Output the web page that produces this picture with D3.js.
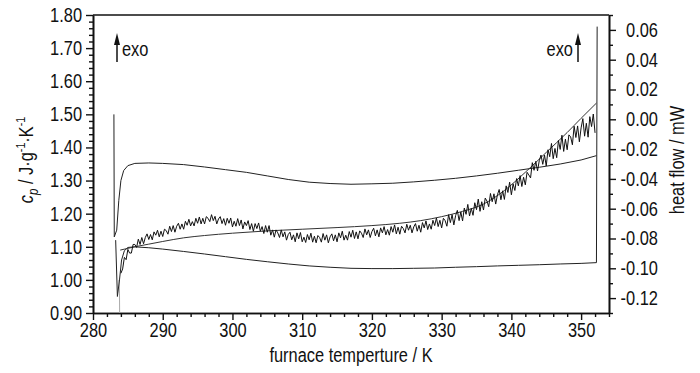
<!DOCTYPE html>
<html><head><meta charset="utf-8">
<script src="https://cdn.jsdelivr.net/npm/d3@7"></script>
<style>
body{margin:0;background:#fff}
svg{display:block}
text{font-family:"Liberation Sans",Arial,Helvetica,sans-serif;fill:#111}
</style>
</head><body>
<svg id="c" width="700" height="373"></svg>
<script>
// ---------- data ----------
const xMajorTicks = [280, 290, 300, 310, 320, 330, 340, 350];
const cpTicks = [0.90, 1.00, 1.10, 1.20, 1.30, 1.40, 1.50, 1.60, 1.70, 1.80];
const hfTicks = [-0.12, -0.10, -0.08, -0.06, -0.04, -0.02, 0.00, 0.02, 0.04, 0.06];

// measured cp (noisy), sampled every 0.25 K from 284 K (one row = 2 K)
const noisyStartT = 284, noisyStepT = 0.25;
const cpMeasured = [
1.020,1.033,1.068,1.061,1.092,1.081,1.081,1.107,
1.107,1.098,1.123,1.107,1.128,1.109,1.128,1.139,
1.122,1.137,1.121,1.145,1.135,1.150,1.130,1.147,
1.131,1.153,1.149,1.138,1.162,1.146,1.164,1.144,
1.162,1.171,1.153,1.169,1.153,1.177,1.165,1.183,
1.163,1.176,1.163,1.186,1.171,1.190,1.169,1.186,
1.169,1.191,1.186,1.176,1.197,1.179,1.192,1.169,
1.184,1.191,1.170,1.185,1.165,1.186,1.171,1.187,
1.160,1.177,1.162,1.185,1.164,1.181,1.154,1.175,
1.164,1.179,1.152,1.170,1.147,1.170,1.155,1.172,
1.147,1.161,1.140,1.164,1.144,1.164,1.135,1.151,
1.129,1.151,1.142,1.128,1.151,1.130,1.145,1.120,
1.137,1.144,1.121,1.136,1.115,1.142,1.124,1.143,
1.115,1.129,1.113,1.137,1.121,1.141,1.114,1.132,
1.112,1.134,1.128,1.114,1.140,1.120,1.136,1.112,
1.130,1.139,1.118,1.136,1.115,1.142,1.127,1.147,
1.120,1.135,1.120,1.146,1.129,1.150,1.125,1.145,
1.124,1.148,1.141,1.128,1.154,1.136,1.151,1.128,
1.146,1.156,1.133,1.151,1.130,1.157,1.142,1.161,
1.136,1.152,1.135,1.161,1.144,1.166,1.139,1.159,
1.138,1.162,1.155,1.142,1.168,1.150,1.165,1.142,
1.160,1.170,1.147,1.165,1.144,1.173,1.157,1.178,
1.152,1.169,1.153,1.180,1.164,1.187,1.161,1.180,
1.157,1.186,1.179,1.162,1.197,1.173,1.197,1.166,
1.194,1.210,1.179,1.205,1.178,1.217,1.198,1.228,
1.193,1.216,1.195,1.233,1.212,1.244,1.207,1.236,
1.211,1.247,1.238,1.221,1.261,1.236,1.260,1.229,
1.257,1.273,1.242,1.269,1.243,1.284,1.264,1.295,
1.257,1.290,1.270,1.306,1.284,1.315,1.282,1.310,
1.287,1.325,1.317,1.308,1.354,1.331,1.358,1.329,
1.360,1.377,1.349,1.377,1.344,1.393,1.372,1.412,
1.366,1.397,1.369,1.421,1.394,1.437,1.388,1.425,
1.393,1.438,1.432,1.408,1.464,1.430,1.465,1.417,
1.459,1.487,1.434,1.473,1.431,1.493,1.463,1.501,
1.444
];

// smooth fitted cp
const fitT  = [283.9, 286, 288, 290, 293, 296, 300, 305, 310, 315, 320, 324, 327, 330, 333, 336, 339, 342, 345, 348, 350, 352.2];
const cpFit = [1.090,1.100,1.108,1.116,1.127,1.134,1.141,1.148,1.153,1.158,1.164,1.171,1.179,1.191,1.207,1.229,1.270,1.325,1.385,1.445,1.488,1.534];

// heat flow of sample run (mW, right axis)
const upperT = [283.0, 283.05, 283.4, 283.7, 284.0, 284.4, 285.0, 286, 288, 290, 293, 296, 299, 302, 305, 308, 311, 314, 317, 320, 323, 326, 329, 332, 335, 338, 341, 344, 347, 350, 352.2];
const heatFlowSample = [0.0033,-0.0789,-0.0744,-0.0544,-0.0411,-0.0344,-0.0311,-0.0296,-0.0293,-0.0296,-0.0304,-0.0320,-0.0338,-0.0356,-0.0380,-0.0404,-0.0422,-0.0431,-0.0436,-0.0433,-0.0429,-0.0420,-0.0409,-0.0396,-0.0380,-0.0362,-0.0342,-0.0322,-0.0300,-0.0273,-0.0244];

// heat flow of blank run (mW, right axis)
const lowerT = [283.25, 283.5, 283.8, 284.1, 284.5, 285, 286, 288, 290, 293, 296, 299, 302, 305, 308, 311, 314, 317, 320, 323, 326, 329, 332, 335, 338, 341, 344, 347, 350, 352.2, 352.3];
const heatFlowBlank = [-0.0811,-0.1189,-0.1078,-0.0944,-0.0882,-0.0860,-0.0856,-0.0862,-0.0871,-0.0887,-0.0904,-0.0922,-0.0940,-0.0956,-0.0971,-0.0984,-0.0993,-0.1000,-0.1002,-0.1002,-0.1000,-0.0998,-0.0993,-0.0989,-0.0984,-0.0980,-0.0976,-0.0971,-0.0967,-0.0962,0.0622];

// light grey trace at the start
const greyT = [283.82, 283.80, 283.72];
const cpGrey = [0.90, 0.96, 1.00];

// ---------- layout ----------
const svg = d3.select("#c");
const L = 93, R = 609, T = 15, B = 313;
const x  = d3.scaleLinear([280, 354], [L, R]);
const yL = d3.scaleLinear([0.90, 1.80], [B, T]);
const yR = d3.scaleLinear([-0.13, 0.07], [B, T]);

function narrow(sel) {
  sel.each(function () {
    const len = this.getComputedTextLength();
    if (len > 0) {
      this.setAttribute("textLength", (len * 0.82).toFixed(2));
      this.setAttribute("lengthAdjust", "spacingAndGlyphs");
    }
  });
}

function styleAxis(g) {
  g.selectAll(".domain").attr("stroke", "#111").attr("stroke-width", 1.6);
  g.selectAll(".tick line").attr("stroke", "#111").attr("stroke-width", 1.4);
  g.selectAll("text").attr("font-size", 20).attr("fill", "#111")
   .attr("font-family", '"Liberation Sans",Arial,sans-serif');
}

// minor ticks
const xMinor = d3.range(282, 354.1, 2).filter(v => v % 10 !== 0);
const cpMinor = d3.range(0.92, 1.80, 0.02).filter(v => Math.abs(Math.round(v * 10) - v * 10) > 0.01);
const hfMinor = d3.range(-0.13, 0.071, 0.02);

svg.append("g").attr("transform", `translate(0,${B})`)
  .call(d3.axisBottom(x).tickValues(xMinor).tickSize(4).tickSizeOuter(0).tickFormat(""))
  .call(styleAxis);
svg.append("g").attr("transform", `translate(${L},0)`)
  .call(d3.axisLeft(yL).tickValues(cpMinor).tickSize(4).tickSizeOuter(0).tickFormat(""))
  .call(styleAxis);
svg.append("g").attr("transform", `translate(${R},0)`)
  .call(d3.axisRight(yR).tickValues(hfMinor).tickSize(4).tickSizeOuter(0).tickFormat(""))
  .call(styleAxis);

// major axes
const gx = svg.append("g").attr("transform", `translate(0,${B})`)
  .call(d3.axisBottom(x).tickValues(xMajorTicks).tickSize(7).tickSizeOuter(0).tickPadding(3).tickFormat(d3.format("d")))
  .call(styleAxis);
const gyl = svg.append("g").attr("transform", `translate(${L},0)`)
  .call(d3.axisLeft(yL).tickValues(cpTicks).tickSize(7).tickSizeOuter(0).tickPadding(4).tickFormat(d3.format(".2f")))
  .call(styleAxis);
const gyr = svg.append("g").attr("transform", `translate(${R},0)`)
  .call(d3.axisRight(yR).tickValues(hfTicks).tickSize(7).tickSizeOuter(0).tickFormat(d => d3.format(".2f")(d).replace("−", "-")))
  .call(styleAxis);
gyr.selectAll("text").attr("text-anchor", "end").attr("x", 49);

narrow(gx.selectAll("text"));
narrow(gyl.selectAll("text"));
narrow(gyr.selectAll("text"));

// top frame
svg.append("line").attr("x1", L).attr("x2", R).attr("y1", T).attr("y2", T)
  .attr("stroke", "#111").attr("stroke-width", 1.6);

// ---------- curves ----------
const lineL = d3.line().x(d => x(d[0])).y(d => yL(d[1]));
const lineR = d3.line().x(d => x(d[0])).y(d => yR(d[1]));

svg.append("clipPath").attr("id", "pc").append("rect")
  .attr("x", L).attr("y", T).attr("width", R - L).attr("height", B - T);
const plot = svg.append("g").attr("clip-path", "url(#pc)");

plot.append("path").datum(greyT.map((t, i) => [t, cpGrey[i]]))
  .attr("d", lineL).attr("fill", "none").attr("stroke", "#aaa").attr("stroke-width", 1);

plot.append("path").datum(upperT.map((t, i) => [t, heatFlowSample[i]]))
  .attr("d", lineR).attr("fill", "none").attr("stroke", "#222").attr("stroke-width", 1);

plot.append("path").datum(lowerT.map((t, i) => [t, heatFlowBlank[i]]))
  .attr("d", lineR).attr("fill", "none").attr("stroke", "#222").attr("stroke-width", 1);

const lineFit = d3.line().x(d => x(d[0])).y(d => yL(d[1])).curve(d3.curveMonotoneX);
plot.append("path").datum(fitT.map((t, i) => [t, cpFit[i]]))
  .attr("d", lineFit).attr("fill", "none").attr("stroke", "#333").attr("stroke-width", 1);

plot.append("path").datum(cpMeasured.map((v, i) => [noisyStartT + i * noisyStepT, v]))
  .attr("d", lineL).attr("fill", "none").attr("stroke", "#111").attr("stroke-width", 1);

// ---------- annotations ----------
function arrow(xp) {
  svg.append("line").attr("x1", xp).attr("x2", xp).attr("y1", 62).attr("y2", 42)
    .attr("stroke", "#111").attr("stroke-width", 1.5);
  svg.append("path").attr("d", `M${xp - 3},${45} L${xp},${33} L${xp + 3},${45} Z`).attr("fill", "#111");
}
arrow(117);
arrow(578);
narrow(svg.append("text").attr("x", 122).attr("y", 56).attr("font-size", 20).text("exo"));
narrow(svg.append("text").attr("x", 573).attr("y", 56).attr("font-size", 20).attr("text-anchor", "end").text("exo"));

// axis titles
narrow(svg.append("text").attr("x", (L + R) / 2).attr("y", 362).attr("font-size", 20)
  .attr("text-anchor", "middle").text("furnace temperture / K"));

const rt = svg.append("g").attr("transform", "translate(684,160) rotate(-90) scale(0.82,1)");
rt.append("text").attr("x", 0).attr("y", 0).attr("font-size", 20).attr("text-anchor", "middle").text("heat flow / mW");

const lt = svg.append("g").attr("transform", "translate(33,160) rotate(-90) scale(0.82,1)");
const ltx = lt.append("text").attr("x", 0).attr("y", 0).attr("font-size", 20).attr("text-anchor", "middle");
ltx.append("tspan").attr("font-style", "italic").text("c");
ltx.append("tspan").attr("font-style", "italic").attr("font-size", 14).attr("dy", 5).text("p");
ltx.append("tspan").attr("dy", -5).text(" / J·g");
ltx.append("tspan").attr("font-size", 13).attr("dy", -8).text("-1");
ltx.append("tspan").attr("dy", 8).text("·K");
ltx.append("tspan").attr("font-size", 13).attr("dy", -8).text("-1");
</script>
</body></html>
